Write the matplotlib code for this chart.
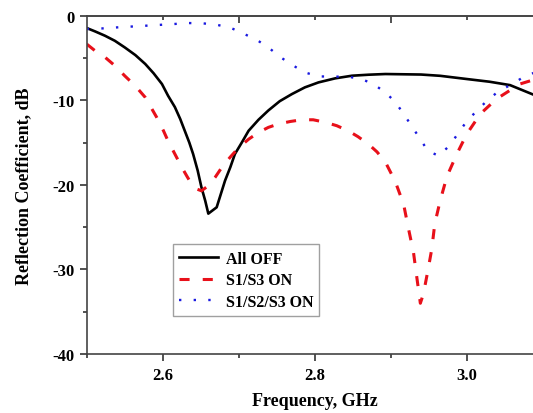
import matplotlib
matplotlib.use('Agg')
import matplotlib.pyplot as plt
from matplotlib.ticker import MultipleLocator, FixedLocator

plt.rcParams['font.family'] = 'Liberation Serif'
plt.rcParams['font.weight'] = 'bold'
plt.rcParams['axes.unicode_minus'] = False

# All OFF
f_off = [2.500, 2.511, 2.524, 2.537, 2.550, 2.564, 2.577, 2.588, 2.599, 2.607,
         2.616, 2.623, 2.629, 2.635, 2.640, 2.646, 2.651, 2.656, 2.660, 2.671,
         2.682, 2.689, 2.695, 2.704, 2.713, 2.726, 2.739, 2.754, 2.770, 2.787,
         2.805, 2.827, 2.849, 2.871, 2.893, 2.940, 2.965, 3.000, 3.030, 3.057,
         3.087, 3.100]
s_off = [-1.45, -1.85, -2.36, -2.96, -3.74, -4.65, -5.7, -6.8, -8.07, -9.45,
         -10.8, -12.2, -13.6, -15.0, -16.35, -18.3, -20.3, -21.9, -23.4, -22.65,
         -19.5, -17.9, -16.35, -15.0, -13.6, -12.3, -11.2, -10.1, -9.26, -8.47,
         -7.88, -7.4, -7.09, -6.97, -6.89, -6.95, -7.1, -7.48, -7.8, -8.2,
         -9.3, -9.8]

# S1/S3 ON
f_s13 = [2.500, 2.511, 2.524, 2.537, 2.550, 2.564, 2.577, 2.592, 2.601, 2.607,
         2.616, 2.625, 2.632, 2.638, 2.645, 2.651, 2.660, 2.669, 2.678, 2.689,
         2.700, 2.713, 2.726, 2.739, 2.752, 2.768, 2.783, 2.798, 2.814, 2.829,
         2.844, 2.857, 2.871, 2.882, 2.893, 2.906, 2.917, 2.923, 2.930, 2.934,
         2.939, 2.943, 2.949, 2.954, 2.958, 2.965, 2.974, 2.987, 3.000, 3.018,
         3.039, 3.070, 3.087, 3.100]
s_s13 = [-3.35, -4.14, -4.9, -5.9, -7.1, -8.3, -9.65, -12.0, -13.6, -14.8,
         -16.35, -17.9, -19.0, -19.9, -20.5, -20.7, -20.1, -19.1, -17.9, -16.7,
         -15.6, -14.6, -13.8, -13.2, -12.8, -12.5, -12.3, -12.3, -12.6, -13.0,
         -13.6, -14.3, -15.2, -16.1, -17.3, -19.6, -22.3, -25.0, -28.0, -30.7,
         -34.0, -32.9, -30.1, -27.6, -24.6, -21.9, -19.0, -16.35, -14.0, -11.6,
         -9.85, -8.07, -7.6, -7.3]

# S1/S2/S3 ON
f_s123 = [2.500, 2.520, 2.539, 2.577, 2.614, 2.634, 2.653, 2.671, 2.690, 2.706,
          2.724, 2.739, 2.754, 2.770, 2.787, 2.805, 2.824, 2.844, 2.862, 2.877,
          2.893, 2.906, 2.917, 2.928, 2.939, 2.949, 2.963, 2.977, 2.988, 2.999,
          3.012, 3.025, 3.040, 3.057, 3.074, 3.100]
s_s123 = [-1.57, -1.5, -1.38, -1.18, -0.98, -0.86, -0.9, -1.06, -1.45, -2.1,
          -2.87, -3.74, -4.84, -5.8, -6.7, -7.17, -7.2, -7.2, -7.5, -8.07,
          -9.06, -10.2, -11.6, -13.1, -14.6, -16.0, -16.55, -15.4, -14.0, -12.6,
          -11.35, -10.2, -9.06, -8.2, -7.3, -6.3]

fig = plt.figure(figsize=(5.33, 4.14), dpi=100)
ax = fig.add_axes([0.1627, 0.1425, 0.8555, 0.817])

ax.plot(f_off, s_off, color='black', lw=1.9, label='All OFF')
ax.plot(f_s13, s_s13, color='#e8101a', lw=2.2, linestyle=(0, (3.3, 4.3)),
        label='S1/S3 ON')
ax.plot(f_s123, s_s123, color='#1a1ae0', lw=1.7, linestyle=(0, (1, 5.2)),
        label='S1/S2/S3 ON')

ax.set_xlim(2.5, 3.1)
ax.set_ylim(-40, 0)

ax.xaxis.set_major_locator(FixedLocator([2.6, 2.8, 3.0]))
ax.xaxis.set_minor_locator(FixedLocator([2.5, 2.7, 2.9, 3.1]))
ax.yaxis.set_major_locator(MultipleLocator(10))
ax.yaxis.set_minor_locator(MultipleLocator(5))
ax.tick_params(which='major', direction='out', length=5, width=1.2,
               labelsize=12, color='#333333', pad=4)
ax.tick_params(which='minor', direction='out', length=3, width=1.2,
               color='#333333')
ax.tick_params(top=False, right=False, which='both')

# top axis ticks pointing inwards, without labels
top = ax.secondary_xaxis('top')
top.xaxis.set_major_locator(FixedLocator([2.7, 2.9]))
top.xaxis.set_minor_locator(FixedLocator([2.6, 2.8, 3.0]))
top.tick_params(which='major', direction='in', length=5, width=1.2,
                color='#333333', labeltop=False)
top.tick_params(which='minor', direction='in', length=3, width=1.2,
                color='#333333')
top.spines['top'].set_color('#444444')
top.spines['top'].set_linewidth(1.2)

for side in ['left', 'bottom', 'top']:
    ax.spines[side].set_color('#444444')
    ax.spines[side].set_linewidth(1.2)
ax.spines['right'].set_visible(False)

for lbl in ax.get_xticklabels() + ax.get_yticklabels():
    lbl.set_fontweight('bold')

ax.set_xlabel('Frequency, GHz', fontsize=13, fontweight='bold', labelpad=7)
ax.set_ylabel('Reflection Coefficient, dB', fontsize=13, fontweight='bold',
              labelpad=14)

leg = ax.legend(loc='lower left', bbox_to_anchor=(0.189, 0.112),
                borderaxespad=0, fontsize=11.5, frameon=True, fancybox=False,
                handlelength=2.4, handletextpad=0.5, labelspacing=0.35,
                borderpad=0.4)
leg.get_frame().set_edgecolor('#888888')
leg.get_frame().set_linewidth(1.0)
for t in leg.get_texts():
    t.set_fontweight('bold')

fig.savefig('out.png', dpi=100)
